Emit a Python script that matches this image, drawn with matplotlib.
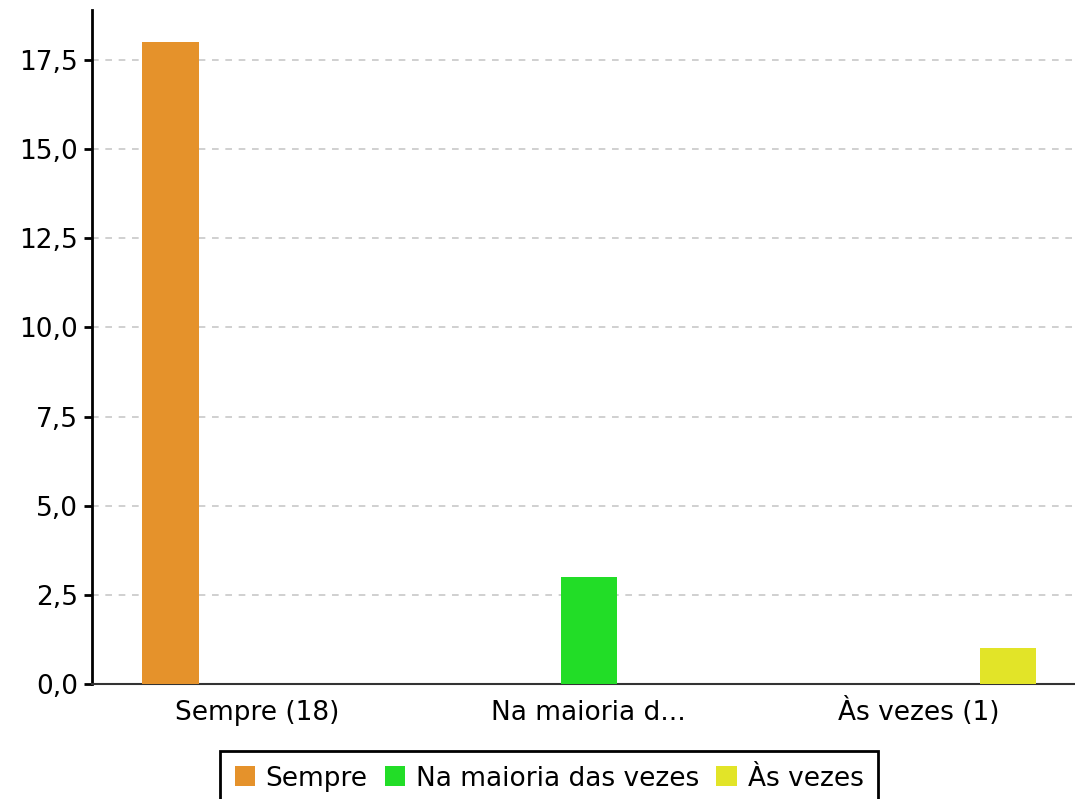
import matplotlib
matplotlib.use("Agg")
import matplotlib.pyplot as plt
from matplotlib.ticker import FuncFormatter, MultipleLocator
import numpy as np

categories = ["Sempre (18)", "Na maioria d...", "Às vezes (1)"]
series_names = ["Sempre", "Na maioria das vezes", "Às vezes"]
sempre = [18, 0, 0]
na_maioria = [0, 3, 0]
as_vezes = [0, 0, 1]
colors = ["#E5922B", "#22DD27", "#E2E428"]

plt.rcParams['font.family'] = ['DejaVu Sans']
fig = plt.figure(figsize=(10.75, 7.99), dpi=100)
ax = fig.add_axes([92/1075, 1-684/799, (1084-92)/1075, (684-10)/799])

x = np.arange(len(categories))
slot = 0.8/3
bw = 0.17
for i, (name, vals, c) in enumerate(zip(series_names, [sempre, na_maioria, as_vezes], colors)):
    ax.bar(x + (i-1)*slot + 0.004, vals, width=bw, color=c, label=name, zorder=3)

ax.set_xlim(-0.5, 2.5)
ax.set_ylim(0, (684-10)/35.66)
ax.yaxis.set_major_locator(MultipleLocator(2.5))
ax.yaxis.set_major_formatter(FuncFormatter(lambda v, p: f"{v:.1f}".replace('.', ',')))
ax.set_xticks(x)
ax.set_xticklabels(categories)
ax.tick_params(axis='x', length=0, pad=26, labelsize=19)
for lab in ax.get_xticklabels():
    lab.set_va('baseline')
ax.tick_params(axis='y', length=6, width=2, color='black', labelsize=19, pad=4)
ax.grid(axis='y', color='#c8c8c8', linestyle=(0, (4, 4)), linewidth=1.2, zorder=0)
ax.set_axisbelow(True)
for s in ['top', 'right']:
    ax.spines[s].set_visible(False)
ax.spines['left'].set_linewidth(2)
ax.spines['left'].set_color('black')
ax.spines['bottom'].set_linewidth(1.5)
ax.spines['bottom'].set_color('#333333')

leg = fig.legend(loc='upper center', bbox_to_anchor=(549/1075, 1-751/799), ncol=3,
                 fontsize=19, frameon=True, fancybox=False, handlelength=0.78, handleheight=0.78,
                 handletextpad=0.4, columnspacing=0.65, borderpad=0.55, borderaxespad=0,
                 framealpha=1)
leg.get_frame().set_edgecolor('black')
leg.get_frame().set_linewidth(2)

fig.savefig("out.png", dpi=100)
